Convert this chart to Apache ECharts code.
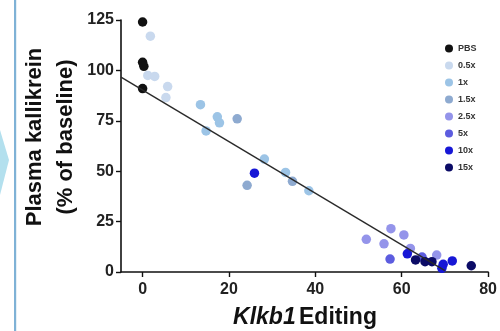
<!DOCTYPE html>
<html>
<head>
<meta charset="utf-8">
<script src="https://cdn.jsdelivr.net/npm/echarts@6/dist/echarts.min.js"></script>
<style>
  html, body { margin: 0; padding: 0; background: #fff; }
  #chart { width: 500px; height: 331px; }
</style>
</head>
<body>
<div id="chart"></div>
<script>
// Dose groups and their marker colours
const groups = ['PBS', '0.5x', '1x', '1.5x', '2.5x', '5x', '10x', '15x'];
const groupColors = ['#111111', '#c9d9ee', '#9cc4e6', '#8eaad0', '#9494ea', '#5c5cdf', '#1717d6', '#0b0b66'];

// Klkb1 editing (%) and plasma kallikrein (% of baseline) per animal, by group
const editPBS = [0, 0, 0.3, 0];
const kalPBS  = [124, 104, 102, 91];
const edit05 = [1.8, 1.2, 2.8, 5.8, 5.4];
const kal05  = [117, 97.5, 97, 92, 86.5];
const edit1 = [13.4, 17.3, 17.8, 14.7, 28.2, 33.1, 38.5];
const kal1  = [83, 77, 74, 70, 56, 49.4, 40.3];
const edit15 = [21.9, 24.2, 34.7];
const kal15  = [76, 43, 45];
const edit25 = [51.8, 57.5, 55.9, 60.5, 68.1, 62];
const kal25  = [16.2, 21.5, 14, 18.4, 8.4, 11.7];
const edit5 = [57.3, 64.7];
const kal5  = [6.4, 7.4];
const edit10 = [25.9, 61.3, 69.6, 69.3, 71.7];
const kal10  = [49, 9, 3.8, 1.8, 5.5];
const edit15x = [63.2, 65.4, 67, 76.1];
const kal15x  = [6, 5.1, 5.1, 3.1];

// Linear fit endpoints
const fitX = [-5, 70];
const fitY = [96.7, 0.7];

// Axis ticks
const xTicks = [0, 20, 40, 60, 80];

const groupEdit = [editPBS, edit05, edit1, edit15, edit25, edit5, edit10, edit15x];
const groupKal  = [kalPBS, kal05, kal1, kal15, kal25, kal5, kal10, kal15x];

const FONT = 'Liberation Sans, Arial, sans-serif';
const chart = echarts.init(document.getElementById('chart'), null, { renderer: 'canvas' });

const scatterSeries = groups.map((g, i) => ({
  name: g,
  type: 'scatter',
  symbol: 'circle',
  symbolSize: 9.5,
  itemStyle: { color: groupColors[i], opacity: 1 },
  z: i === 0 ? 4 : 3,
  data: groupEdit[i].map((x, k) => [x, groupKal[i][k]])
}));

chart.setOption({
  animation: false,
  backgroundColor: '#ffffff',
  grid: { left: 121, right: 6, top: 20, bottom: 59, containLabel: false },
  xAxis: {
    type: 'value',
    min: -5,
    max: 80,
    splitLine: { show: false },
    axisLine: { onZero: false, lineStyle: { color: '#111', width: 1.6 } },
    axisTick: { show: true, customValues: xTicks, length: 5, lineStyle: { color: '#111', width: 1.4 } },
    axisLabel: { customValues: xTicks, margin: 10, fontSize: 16, fontWeight: 'bold', color: '#222', fontFamily: FONT }
  },
  yAxis: {
    type: 'value',
    min: 0,
    max: 125,
    interval: 25,
    splitLine: { show: false },
    axisLine: { show: true, onZero: false, lineStyle: { color: '#111', width: 1.6 } },
    axisTick: { show: true, length: 5, lineStyle: { color: '#111', width: 1.4 } },
    axisLabel: { margin: 7, fontSize: 16, fontWeight: 'bold', color: '#222', fontFamily: FONT }
  },
  legend: {
    data: groups,
    orient: 'vertical',
    left: 445,
    top: 44,
    padding: 0,
    itemWidth: 8,
    itemHeight: 8,
    itemGap: 8,
    icon: 'circle',
    textStyle: { fontSize: 9, fontWeight: 'bold', color: '#333', fontFamily: FONT }
  },
  graphic: [
    // panel divider and arrow at the left edge
    { type: 'rect', shape: { x: 14, y: 0, width: 2.2, height: 331 }, style: { fill: '#7fb2d6' }, silent: true },
    { type: 'polygon', shape: { points: [[0, 130], [9, 160], [0, 195]] }, style: { fill: '#b3e0ee' }, silent: true },
    // y axis title, two lines
    { type: 'text', x: 35, y: 137, rotation: Math.PI / 2,
      style: { text: 'Plasma kallikrein', fontSize: 22, fontWeight: 'bold', fill: '#111', fontFamily: FONT, align: 'center', verticalAlign: 'middle' } },
    { type: 'text', x: 66, y: 137, rotation: Math.PI / 2,
      style: { text: '(% of baseline)', fontSize: 22, fontWeight: 'bold', fill: '#111', fontFamily: FONT, align: 'center', verticalAlign: 'middle' } },
    // x axis title
    { type: 'text', x: 305, y: 318,
      style: {
        text: '{i|Klkb1} {n|Editing}',
        align: 'center', verticalAlign: 'middle',
        rich: {
          i: { fontSize: 23, fontWeight: 'bold', fontStyle: 'italic', fill: '#111', fontFamily: FONT },
          n: { fontSize: 23, fontWeight: 'bold', fill: '#111', fontFamily: FONT }
        }
      } }
  ],
  series: [
    ...scatterSeries,
    {
      name: 'fit',
      type: 'line',
      data: fitX.map((x, k) => [x, fitY[k]]),
      symbol: 'none',
      lineStyle: { color: '#2a2a2a', width: 1.4 },
      z: 5,
      silent: true
    }
  ]
});
</script>
</body>
</html>
